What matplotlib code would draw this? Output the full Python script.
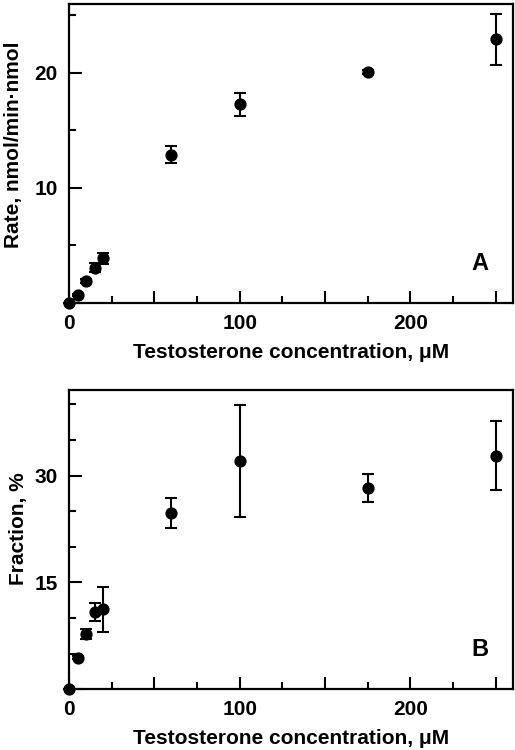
import matplotlib
matplotlib.use("Agg")
import matplotlib.pyplot as plt
from matplotlib.ticker import MultipleLocator, FuncFormatter

plt.rcParams['font.family'] = ['Liberation Sans', 'DejaVu Sans']
plt.rcParams['font.weight'] = 'bold'

# Panel A: rate
conc_a = [0, 5, 10, 15, 20, 60, 100, 175, 250]
rate = [0.0, 0.7, 1.9, 3.05, 3.87, 12.87, 17.26, 20.08, 22.93]
rate_err = [0.0, 0.1, 0.15, 0.4, 0.45, 0.74, 1.0, 0.15, 2.22]

# Panel B: fraction
conc_b = [0, 5, 10, 15, 20, 60, 100, 175, 250]
frac = [0.0, 4.4, 7.8, 10.84, 11.2, 24.8, 32.0, 28.3, 32.8]
frac_err = [0.0, 0.2, 0.7, 1.2, 3.2, 2.1, 7.85, 1.96, 4.8]

xlabel = "Testosterone concentration, \u03bcM"
ylabel_a = "Rate, nmol/min\u00b7nmol"
ylabel_b = "Fraction, %"

fig = plt.figure(figsize=(5.15, 7.5), dpi=100)
ax_a = fig.add_axes([0.134, 0.596, 0.862, 0.399])
ax_b = fig.add_axes([0.134, 0.081, 0.862, 0.399])

def style(ax, ymax, ymajor, yminor, label, ylab, lab_xy):
    ax.set_xlim(0, 260)
    ax.set_ylim(0, ymax)
    for s in ax.spines.values():
        s.set_linewidth(1.6)
    ax.xaxis.set_major_locator(MultipleLocator(50))
    ax.xaxis.set_minor_locator(MultipleLocator(25))
    ax.xaxis.set_major_formatter(FuncFormatter(lambda v, p: f"{int(v)}" if int(round(v)) % 100 == 0 else ""))
    ax.yaxis.set_major_locator(MultipleLocator(ymajor))
    ax.yaxis.set_minor_locator(MultipleLocator(yminor))
    ax.yaxis.set_major_formatter(FuncFormatter(lambda v, p: "" if v == 0 else f"{int(v)}"))
    ax.tick_params(which='major', direction='in', length=9, width=1.5, labelsize=15, pad=8)
    ax.tick_params(which='minor', direction='in', length=5, width=1.5)
    ax.tick_params(top=False, right=False)
    for t in ax.get_xticklabels() + ax.get_yticklabels():
        t.set_fontweight('bold')
    ax.set_xlabel(xlabel, fontsize=15, fontweight='bold', labelpad=7)
    ax.set_ylabel(ylab, fontsize=15, fontweight='bold')
    ax.yaxis.set_label_coords(*lab_xy)
    ax.text(0.945, 0.094, label, transform=ax.transAxes, fontsize=17,
            fontweight='bold', ha='right', va='bottom')

ax_a.errorbar(conc_a, rate, yerr=rate_err, fmt='o', color='black', ms=7.8,
              capsize=4.5, elinewidth=1.5, capthick=1.5, clip_on=False, zorder=3)
ax_b.errorbar(conc_b, frac, yerr=frac_err, fmt='o', color='black', ms=7.8,
              capsize=4.5, elinewidth=1.5, capthick=1.5, clip_on=False, zorder=3)

style(ax_a, 26, 10, 5, "A", ylabel_a, (-0.103, 0.528))
style(ax_b, 42, 15, 5, "B", ylabel_b, (-0.092, 0.538))

fig.savefig("out.png", dpi=100)
